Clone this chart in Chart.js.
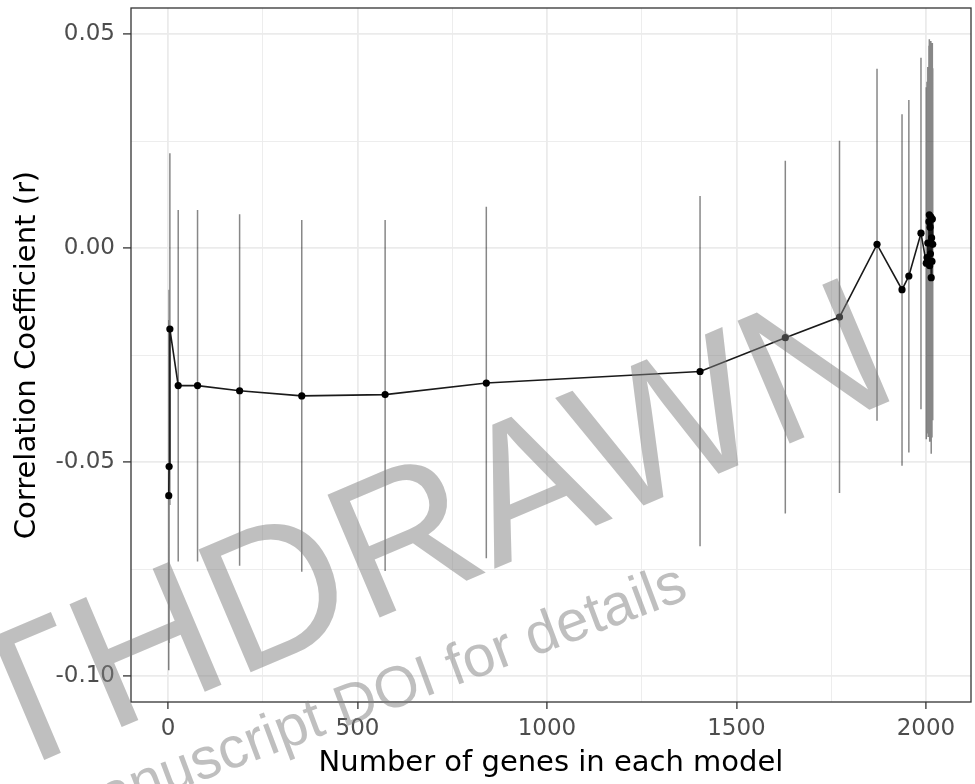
<!DOCTYPE html>
<html>
<head>
<meta charset="utf-8">
<script src="https://cdn.jsdelivr.net/npm/chart.js@4.4.1/dist/chart.umd.min.js"></script>
<style>
  html, body { margin: 0; padding: 0; background: #fff; }
  #wrap { width: 975px; height: 784px; }
</style>
</head>
<body>
<div id="wrap"><canvas id="corrChart" width="975" height="784"></canvas></div>
<script>
// genes per model and the correlation of each model, with its CI
const genes = [2, 3, 5, 27, 78, 189, 353, 573, 840, 1404, 1629, 1772, 1871, 1937, 1955, 1987,
  2001, 2003, 2005, 2006, 2008, 2009, 2010, 2011, 2012, 2013, 2014, 2015, 2016, 2017, 2018];
const corr = [-0.0578, -0.0510, -0.0189, -0.0321, -0.0321, -0.0333, -0.0345, -0.0342, -0.0315, -0.0288, -0.0209, -0.0161, 0.0009, -0.0097, -0.0065, 0.0035,
  -0.0035, -0.0022, 0.0012, -0.0030, 0.0062, 0.0078, -0.0041, 0.0049, -0.0013, 0.0073, -0.0069, 0.0024, -0.0031, 0.0068, 0.0009];
const ciUpper = [-0.0168, -0.0097, 0.0222, 0.0089, 0.0089, 0.0079, 0.0066, 0.0066, 0.0097, 0.0122, 0.0204, 0.0251, 0.0419, 0.0313, 0.0346, 0.0445,
  0.0376, 0.0389, 0.0423, 0.0381, 0.0473, 0.0488, 0.0370, 0.0460, 0.0398, 0.0484, 0.0342, 0.0435, 0.0380, 0.0479, 0.0420];
const ciLower = [-0.0986, -0.0922, -0.0600, -0.0732, -0.0732, -0.0742, -0.0756, -0.0754, -0.0724, -0.0696, -0.0620, -0.0572, -0.0403, -0.0508, -0.0477, -0.0376,
  -0.0446, -0.0433, -0.0399, -0.0441, -0.0349, -0.0333, -0.0452, -0.0362, -0.0424, -0.0338, -0.0480, -0.0387, -0.0442, -0.0343, -0.0402];

// axis ticks (major carry labels, minor only get a grid line)
const xMajor = [0, 500, 1000, 1500, 2000];
const xLabels = ['0', '500', '1000', '1500', '2000'];
const xMinor = [250, 750, 1250, 1750];
const yMajor = [-0.10, -0.05, 0.00, 0.05];
const yLabels = ['-0.10', '-0.05', '0.00', '0.05'];
const yMinor = [-0.075, -0.025, 0.025];

const points = genes.map((g, i) => ({ x: g, y: corr[i] }));
// one vertical segment per model, split by null gaps
const ciSegments = [];
genes.forEach((g, i) => {
  ciSegments.push({ x: g, y: ciLower[i] }, { x: g, y: ciUpper[i] }, { x: g, y: null });
});

const font = "'DejaVu Sans', sans-serif";
const stampFont = "'Liberation Sans', Arial, Helvetica, sans-serif";
const gridCol = '#ebebeb';
const axisCol = '#333333';

function isMajor(list, v) {
  return list.some(m => Math.abs(m - v) < 1e-9);
}

// panel border on all four sides
const panelBorder = {
  id: 'panelBorder',
  afterDatasetsDraw(chart) {
    const a = chart.chartArea, c = chart.ctx;
    c.save();
    c.strokeStyle = axisCol;
    c.lineWidth = 1.3;
    c.strokeRect(a.left, a.top, a.right - a.left, a.bottom - a.top);
    c.restore();
  }
};

// withdrawn stamp laid over the whole figure at half alpha
const stamp = {
  id: 'stamp',
  afterDraw(chart) {
    const c = chart.ctx;
    c.save();
    c.fillStyle = 'rgba(128,128,128,0.5)';
    c.textAlign = 'right';
    c.textBaseline = 'alphabetic';
    c.translate(904, 395);
    c.rotate(-23 * Math.PI / 180);
    c.font = '194px ' + stampFont;
    c.fillText('WITHDRAWN', 0, 0);
    c.restore();

    c.save();
    c.fillStyle = 'rgba(128,128,128,0.5)';
    c.textAlign = 'right';
    c.translate(690, 598);
    c.rotate(-20.5 * Math.PI / 180);
    c.font = '58px ' + stampFont;
    c.fillText('see manuscript DOI for details', 0, 0);
    c.restore();
  }
};

new Chart(document.getElementById('corrChart'), {
  type: 'line',
  data: {
    datasets: [{
      label: 'r',
      data: points,
      borderColor: '#1a1a1a',
      borderWidth: 1.6,
      pointRadius: 3.6,
      pointBackgroundColor: '#000',
      pointBorderWidth: 0,
      tension: 0,
      order: 1
    }, {
      label: 'CI',
      data: ciSegments,
      borderColor: 'rgba(0,0,0,0.47)',
      borderWidth: 1.5,
      pointRadius: 0,
      spanGaps: false,
      order: 2
    }]
  },
  options: {
    responsive: false,
    animation: false,
    devicePixelRatio: 1,
    layout: { padding: { top: 8, right: 4, left: 0, bottom: 0 } },
    plugins: {
      legend: { display: false },
      tooltip: { enabled: false }
    },
    scales: {
      x: {
        type: 'linear',
        min: -97.6,
        max: 2119,
        afterBuildTicks: s => { s.ticks = xMajor.concat(xMinor).sort((a, b) => a - b).map(v => ({ value: v })); },
        afterFit: s => { s.height = 82; s.paddingLeft = 0; s.paddingRight = 0; },
        ticks: {
          autoSkip: false,
          maxRotation: 0,
          padding: 6,
          color: '#4d4d4d',
          font: { family: font, size: 23 },
          callback: v => { const i = xMajor.indexOf(v); return i >= 0 ? xLabels[i] : ''; }
        },
        grid: {
          color: gridCol,
          lineWidth: ctx => isMajor(xMajor, ctx.tick.value) ? 1.8 : 0.9,
          tickColor: ctx => isMajor(xMajor, ctx.tick.value) ? axisCol : 'rgba(0,0,0,0)',
          tickLength: 7,
          tickWidth: 1.3
        },
        border: { display: false },
        title: {
          display: true,
          text: 'Number of genes in each model',
          color: '#000',
          font: { family: font, size: 29 },
          padding: { top: 0, bottom: 3 }
        }
      },
      y: {
        type: 'linear',
        min: -0.1060,
        max: 0.0561,
        afterBuildTicks: s => { s.ticks = yMajor.concat(yMinor).sort((a, b) => a - b).map(v => ({ value: v })); },
        afterFit: s => { s.width = 131; s.paddingTop = 0; s.paddingBottom = 0; },
        ticks: {
          autoSkip: false,
          padding: 8,
          color: '#4d4d4d',
          font: { family: font, size: 23 },
          callback: v => { const i = yMajor.findIndex(m => Math.abs(m - v) < 1e-9); return i >= 0 ? yLabels[i] : ''; }
        },
        grid: {
          color: gridCol,
          lineWidth: ctx => isMajor(yMajor, ctx.tick.value) ? 1.8 : 0.9,
          tickColor: ctx => isMajor(yMajor, ctx.tick.value) ? axisCol : 'rgba(0,0,0,0)',
          tickLength: 8,
          tickWidth: 1.3
        },
        border: { display: false },
        title: {
          display: true,
          text: 'Correlation Coefficient (r)',
          color: '#000',
          font: { family: font, size: 29 },
          padding: { top: 10, bottom: 0 }
        }
      }
    }
  },
  plugins: [panelBorder, stamp]
});
</script>
</body>
</html>
